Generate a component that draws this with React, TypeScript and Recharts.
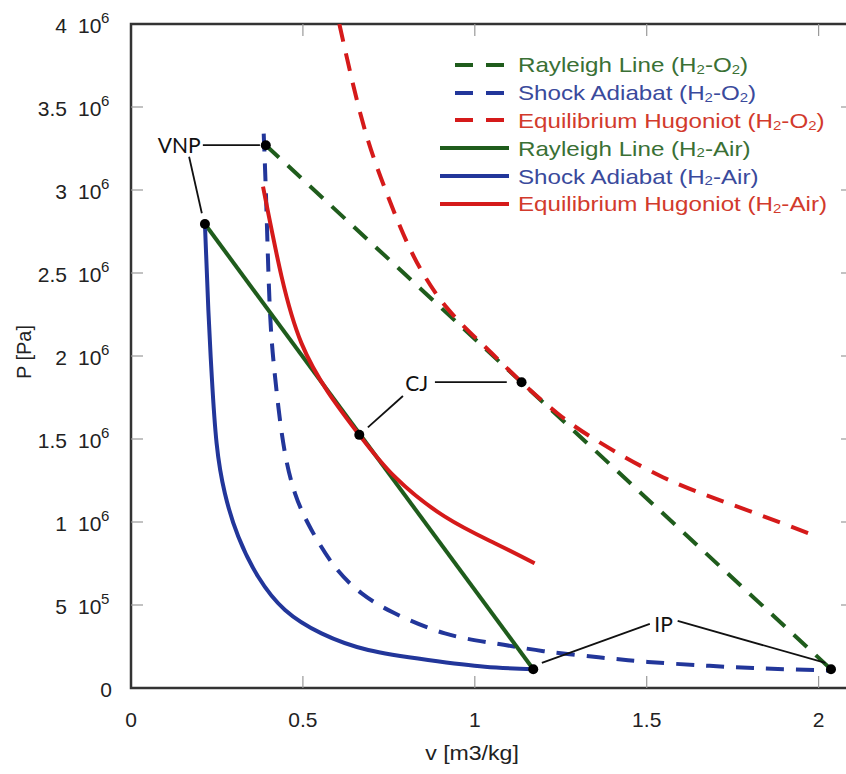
import React from 'react';
import {
  ComposedChart,
  Line,
  Scatter,
  XAxis,
  YAxis,
  ReferenceArea,
  ReferenceLine,
  ReferenceDot,
  Legend,
} from 'recharts';

// axis ticks
const xTicks = [0, 0.5, 1, 1.5, 2];
const yTicks = [0, 5e5, 1e6, 1.5e6, 2e6, 2.5e6, 3e6, 3.5e6, 4e6];
const yTickLabels = ['0', '5 10^5', '1 10^6', '1.5 10^6', '2 10^6', '2.5 10^6', '3 10^6', '3.5 10^6', '4 10^6'];
const xTickLabels = ['0', '0.5', '1', '1.5', '2'];

// v [m3/kg], p [Pa]
const rayleighO2 = [
  { v: 0.392, p: 3.27e6 },
  { v: 2.036, p: 0.113e6 },
];
const shockO2 = [
  { v: 0.386, p: 3.34e6 }, { v: 0.394, p: 2.88e6 }, { v: 0.404, p: 2.277e6 },
  { v: 0.419, p: 1.875e6 }, { v: 0.443, p: 1.474e6 }, { v: 0.477, p: 1.173e6 },
  { v: 0.525, p: 0.952e6 }, { v: 0.593, p: 0.731e6 }, { v: 0.671, p: 0.57e6 },
  { v: 0.767, p: 0.45e6 }, { v: 0.913, p: 0.329e6 }, { v: 1.058, p: 0.269e6 },
  { v: 1.2, p: 0.222e6 }, { v: 1.36, p: 0.185e6 }, { v: 1.503, p: 0.157e6 },
  { v: 1.654, p: 0.137e6 }, { v: 1.81, p: 0.12e6 }, { v: 2.036, p: 0.105e6 },
];
const hugoniotO2 = [
  { v: 0.606, p: 4.0e6 }, { v: 0.675, p: 3.4e6 }, { v: 0.744, p: 2.98e6 },
  { v: 0.82, p: 2.61e6 }, { v: 0.919, p: 2.29e6 }, { v: 1.035, p: 2.045e6 },
  { v: 1.136, p: 1.842e6 }, { v: 1.24, p: 1.655e6 }, { v: 1.355, p: 1.49e6 },
  { v: 1.547, p: 1.27e6 }, { v: 1.741, p: 1.11e6 }, { v: 1.999, p: 0.91e6 },
];
const rayleighAir = [
  { v: 0.215, p: 2.795e6 },
  { v: 1.17, p: 0.113e6 },
];
const shockAir = [
  { v: 0.215, p: 2.795e6 }, { v: 0.225, p: 2.277e6 }, { v: 0.235, p: 1.875e6 },
  { v: 0.249, p: 1.474e6 }, { v: 0.273, p: 1.173e6 }, { v: 0.312, p: 0.912e6 },
  { v: 0.37, p: 0.67e6 }, { v: 0.448, p: 0.47e6 }, { v: 0.554, p: 0.329e6 },
  { v: 0.69, p: 0.229e6 }, { v: 0.864, p: 0.169e6 }, { v: 1.029, p: 0.128e6 },
  { v: 1.17, p: 0.113e6 },
];
const hugoniotAir = [
  { v: 0.384, p: 3.02e6 }, { v: 0.438, p: 2.478e6 }, { v: 0.496, p: 2.076e6 },
  { v: 0.574, p: 1.78e6 }, { v: 0.664, p: 1.525e6 }, { v: 0.767, p: 1.273e6 },
  { v: 0.913, p: 1.032e6 }, { v: 1.058, p: 0.872e6 }, { v: 1.174, p: 0.751e6 },
];

// marked states
const vnpPoints = [{ v: 0.392, p: 3.27e6 }, { v: 0.215, p: 2.795e6 }];
const cjPoints = [{ v: 1.136, p: 1.842e6 }, { v: 0.664, p: 1.525e6 }];
const ipPoints = [{ v: 1.17, p: 0.113e6 }, { v: 2.036, p: 0.113e6 }];

const seriesNames = [
  'Rayleigh Line (H2-O2)',
  'Shock Adiabat (H2-O2)',
  'Equilibrium Hugoniot (H2-O2)',
  'Rayleigh Line (H2-Air)',
  'Shock Adiabat (H2-Air)',
  'Equilibrium Hugoniot (H2-Air)',
];

const GREEN = '#1f5c1c';
const BLUE = '#22369a';
const RED = '#d51a1a';
const AXIS_FONT = 'Arial, "Liberation Sans", Helvetica, sans-serif';
const NOTE_FONT = 'Lato, "Open Sans", sans-serif';

const PLOT_LEFT = 131;
const PLOT_RIGHT = 853;
const PLOT_TOP = 24;
const PLOT_BOTTOM = 688;

const series = [
  { name: seriesNames[0], data: rayleighO2, color: GREEN, text: '#3a7035', dashed: true, curve: 'linear' },
  { name: seriesNames[1], data: shockO2, color: BLUE, text: '#3a4a9c', dashed: true, curve: 'natural' },
  { name: seriesNames[2], data: hugoniotO2, color: RED, text: '#d23a2c', dashed: true, curve: 'natural' },
  { name: seriesNames[3], data: rayleighAir, color: GREEN, text: '#3a7035', dashed: false, curve: 'linear' },
  { name: seriesNames[4], data: shockAir, color: BLUE, text: '#3a4a9c', dashed: false, curve: 'natural' },
  { name: seriesNames[5], data: hugoniotAir, color: RED, text: '#d23a2c', dashed: false, curve: 'natural' },
];

const AxisText = ({ x, y, anchor = 'middle', size = 21, sx = 1, children }: any) => (
  <text
    transform={`translate(${x},${y}) scale(${sx},1)`}
    textAnchor={anchor}
    fontSize={size}
    fontFamily={AXIS_FONT}
    fill="#222"
  >
    {children}
  </text>
);

const YTick = (props: any) => {
  const { y, payload } = props;
  const idx = yTicks.indexOf(payload.value);
  const label = yTickLabels[idx] || '';
  const [head, exp] = label.split('^');
  const [mant, base] = head.split(' ');
  const inner = payload.value > 0 && payload.value < 4e6;
  return (
    <g>
      {inner && (
        <>
          <line x1={PLOT_LEFT} x2={PLOT_LEFT + 12} y1={y} y2={y} stroke="#999" strokeWidth={1.2} />
          <line x1={PLOT_RIGHT - 12} x2={PLOT_RIGHT} y1={y} y2={y} stroke="#999" strokeWidth={1.2} />
        </>
      )}
      {base ? (
        <>
          <AxisText x={67} y={y + 9} anchor="end">{mant}</AxisText>
          <AxisText x={78} y={y + 9} anchor="start">{base}</AxisText>
          <AxisText x={101} y={y - 1} anchor="start" size={15}>{exp}</AxisText>
        </>
      ) : (
        <AxisText x={112} y={y + 9} anchor="end">{mant}</AxisText>
      )}
    </g>
  );
};

const XTick = (props: any) => {
  const { x, payload } = props;
  const idx = xTicks.indexOf(payload.value);
  const inner = payload.value > 0;
  return (
    <g>
      {inner && (
        <>
          <line x1={x} x2={x} y1={PLOT_BOTTOM} y2={PLOT_BOTTOM - 12} stroke="#999" strokeWidth={1.2} />
          <line x1={x} x2={x} y1={PLOT_TOP} y2={PLOT_TOP + 12} stroke="#999" strokeWidth={1.2} />
        </>
      )}
      <AxisText x={x} y={727}>{xTickLabels[idx]}</AxisText>
    </g>
  );
};

const XTitle = () => <AxisText x={472} y={760} sx={1.1}>v [m3/kg]</AxisText>;

const YTitle = () => (
  <text
    transform="translate(31,352) rotate(-90)"
    textAnchor="middle"
    fontSize={20}
    fontFamily={AXIS_FONT}
    fill="#222"
  >
    P [Pa]
  </text>
);

const withSubscripts = (label: string) =>
  label.split(/(2)/).map((part, i) =>
    part === '2' ? (
      <span key={i} style={{ fontSize: '0.62em', position: 'relative', top: '0.12em' }}>
        2
      </span>
    ) : (
      <span key={i}>{part}</span>
    )
  );

const LegendBox = () => (
  <div style={{ fontFamily: AXIS_FONT }}>
    {series.map((s) => (
      <div key={s.name} style={{ display: 'flex', alignItems: 'center', height: 27.8 }}>
        <svg width={78} height={10} style={{ flex: 'none' }}>
          <line
            x1={s.dashed ? 19 : 4}
            x2={s.dashed ? 72 : 73}
            y1={5}
            y2={5}
            stroke={s.color}
            strokeWidth={4}
            strokeDasharray={s.dashed ? '18 13' : undefined}
          />
        </svg>
        <span
          style={{
            marginLeft: 4,
            fontSize: 21,
            lineHeight: 1,
            color: s.text,
            whiteSpace: 'nowrap',
            display: 'inline-block',
            transform: 'scaleX(1.15)',
            transformOrigin: 'left center',
          }}
        >
          {withSubscripts(s.name)}
        </span>
      </div>
    ))}
  </div>
);

const noteText = (label: string) => (p: any) => (
  <text
    x={p.cx}
    y={p.cy}
    textAnchor="middle"
    dominantBaseline="central"
    fontSize={21}
    fontFamily={NOTE_FONT}
    fill="#111"
  >
    {label}
  </text>
);

const leaders = [
  [{ x: 0.209, y: 3.27e6 }, { x: 0.375, y: 3.27e6 }],
  [{ x: 0.169, y: 3.2e6 }, { x: 0.206, y: 2.86e6 }],
  [{ x: 0.884, y: 1.843e6 }, { x: 1.093, y: 1.843e6 }],
  [{ x: 0.791, y: 1.759e6 }, { x: 0.689, y: 1.57e6 }],
  [{ x: 1.195, y: 0.151e6 }, { x: 1.509, y: 0.386e6 }],
  [{ x: 1.59, y: 0.404e6 }, { x: 2.02, y: 0.151e6 }],
];

const App: React.FC = () => {
  const markers = [...vnpPoints, ...cjPoints, ...ipPoints];
  return (
    <div
      style={{
        position: 'absolute',
        left: 0,
        top: 0,
        width: 846,
        height: 774,
        overflow: 'hidden',
        background: '#fff',
      }}
    >
      <ComposedChart width={872} height={774} margin={{ top: 24, right: 19, bottom: 0, left: 0 }}>
        <XAxis
          type="number"
          dataKey="v"
          domain={[0, 2.1]}
          ticks={xTicks}
          interval={0}
          allowDataOverflow
          axisLine={false}
          tickLine={false}
          height={86}
          tick={(p: any) => <XTick {...p} />}
          label={<XTitle />}
        />
        <YAxis
          type="number"
          dataKey="p"
          domain={[0, 4e6]}
          ticks={yTicks}
          interval={0}
          allowDataOverflow
          axisLine={false}
          tickLine={false}
          width={131}
          tick={(p: any) => <YTick {...p} />}
          label={<YTitle />}
        />
        <ReferenceArea x1={0} x2={2.1} y1={0} y2={4e6} fill="none" stroke="#333" strokeWidth={2.5} />
        {series.map((s) => (
          <Line
            key={s.name}
            name={s.name}
            data={s.data}
            dataKey="p"
            type={s.curve as any}
            stroke={s.color}
            strokeWidth={4}
            strokeDasharray={s.dashed ? '18 12' : undefined}
            dot={false}
            activeDot={false}
            isAnimationActive={false}
          />
        ))}
        {leaders.map((seg, i) => (
          <ReferenceLine key={i} segment={seg} stroke="#111" strokeWidth={1.8} />
        ))}
        <Scatter
          data={markers}
          dataKey="p"
          isAnimationActive={false}
          shape={(p: any) => <circle cx={p.cx} cy={p.cy} r={5} fill="#000" />}
        />
        <ReferenceDot x={0.14} y={3.277e6} r={0} shape={noteText('VNP')} />
        <ReferenceDot x={0.831} y={1.843e6} r={0} shape={noteText('CJ')} />
        <ReferenceDot x={1.549} y={0.39e6} r={0} shape={noteText('IP')} />
        <Legend
          layout="horizontal"
          verticalAlign="middle"
          align="center"
          content={() => <LegendBox />}
          wrapperStyle={{ position: 'absolute', left: 436, top: 51, width: 420, height: 170 }}
        />
      </ComposedChart>
    </div>
  );
};

export default App;
